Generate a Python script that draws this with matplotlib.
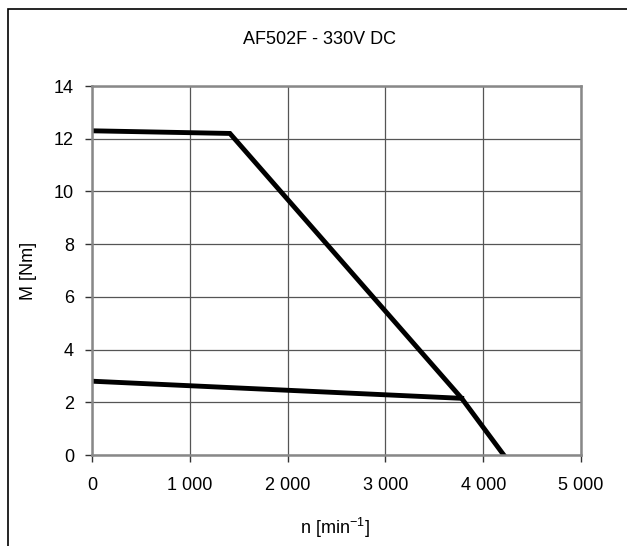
import matplotlib.pyplot as plt
from matplotlib.patches import Rectangle

plt.rcParams['font.family'] = ['Liberation Sans', 'DejaVu Sans']
plt.rcParams['font.size'] = 13

# courbe limite (haut) et courbe continue (bas)
n_max = [0, 1410, 3780, 4210]
m_max = [12.3, 12.2, 2.15, 0]
n_cont = [0, 3780]
m_cont = [2.8, 2.15]

x_ticks = [0, 1000, 2000, 3000, 4000, 5000]
x_labels = ['0', '1 000', '2 000', '3 000', '4 000', '5 000']
y_ticks = [0, 2, 4, 6, 8, 10, 12, 14]

fig = plt.figure(figsize=(6.27, 5.46), dpi=100)
ax = fig.add_axes([92/627, 1-455/546, (581-92)/627, (455-86)/546])

# cadre de la figure (gauche + haut seulement visibles)
fig.add_artist(Rectangle((8/627, -0.5), 2, 0.5 + (546-9)/546, transform=fig.transFigure,
                         fill=False, edgecolor='black', linewidth=1.2))

ax.plot(n_max, m_max, color='black', linewidth=3.5, solid_joinstyle='miter')
ax.plot(n_cont, m_cont, color='black', linewidth=3.5)

ax.set_xlim(0, 5000)
ax.set_ylim(0, 14)
ax.set_xticks(x_ticks)
ax.set_xticklabels(x_labels)
ax.set_yticks(y_ticks)
ax.grid(True, color='#555555', linewidth=0.9)
for s in ax.spines.values():
    s.set_color('#888888')
    s.set_linewidth(1.8)
ax.tick_params(direction='out', length=5, width=1, color='#333333')
ax.tick_params(axis='x', pad=11)
ax.tick_params(axis='y', pad=8)

ax.set_ylabel('M [Nm]', labelpad=12)
fig.text(0.51, 1-40/546, 'AF502F - 330V DC', ha='center', va='center')
fig.text(335/627, 1-528/546, r'n [min$^{\mathregular{-1}}$]', ha='center', va='center')

fig.savefig('out.png', dpi=100)
